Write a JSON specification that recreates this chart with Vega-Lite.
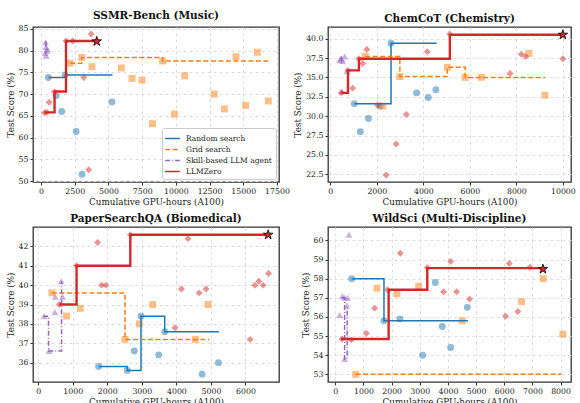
{
  "$schema": "https://vega.github.io/schema/vega-lite/v6.json",
  "padding": {"left": 5, "top": 10, "right": 2, "bottom": 0},
  "background": "white",
  "config": {
    "view": {"stroke": "#333", "strokeWidth": 1.3},
    "title": {"font": "DejaVu Serif", "fontSize": 10.5, "fontWeight": "bold", "offset": 3, "color": "#111"},
    "axis": {"labelFont": "DejaVu Serif", "labelFontSize": 7.8, "labelColor": "#222", "titleFont": "DejaVu Serif", "titleFontSize": 8.8, "titleFontWeight": "normal", "titleColor": "#222", "gridDash": [3, 3], "gridColor": "#dddddd", "domain": false, "tickColor": "#333", "tickSize": 3, "labelPadding": 2, "titlePadding": 3, "tickCount": 30, "labelOverlap": false}
  },
  "resolve": {
    "scale": {"color": "independent", "fill": "independent", "shape": "independent", "strokeDash": "independent"},
    "legend": {"color": "independent", "fill": "independent", "shape": "independent", "strokeDash": "independent"}
  },
  "datasets": {
    "pts": [
      {"p": "A", "m": "Random search", "x": 544, "y": 73.8},
      {"p": "A", "m": "Random search", "x": 1780, "y": 74.4},
      {"p": "A", "m": "Random search", "x": 1110, "y": 69.6},
      {"p": "A", "m": "Random search", "x": 1530, "y": 66.0},
      {"p": "A", "m": "Random search", "x": 2600, "y": 61.4},
      {"p": "A", "m": "Random search", "x": 3040, "y": 51.6},
      {"p": "A", "m": "Random search", "x": 5260, "y": 68.2},
      {"p": "A", "m": "Grid search", "x": 2150, "y": 77.1},
      {"p": "A", "m": "Grid search", "x": 3020, "y": 78.4},
      {"p": "A", "m": "Grid search", "x": 3780, "y": 76.3},
      {"p": "A", "m": "Grid search", "x": 5960, "y": 76.0},
      {"p": "A", "m": "Grid search", "x": 6750, "y": 73.6},
      {"p": "A", "m": "Grid search", "x": 7490, "y": 73.2},
      {"p": "A", "m": "Grid search", "x": 8260, "y": 63.2},
      {"p": "A", "m": "Grid search", "x": 9020, "y": 77.6},
      {"p": "A", "m": "Grid search", "x": 9890, "y": 65.4},
      {"p": "A", "m": "Grid search", "x": 10650, "y": 74.2},
      {"p": "A", "m": "Grid search", "x": 12850, "y": 70.0},
      {"p": "A", "m": "Grid search", "x": 13600, "y": 66.6},
      {"p": "A", "m": "Grid search", "x": 14460, "y": 78.6},
      {"p": "A", "m": "Grid search", "x": 15180, "y": 67.4},
      {"p": "A", "m": "Grid search", "x": 16860, "y": 68.4},
      {"p": "A", "m": "Grid search", "x": 16050, "y": 79.6},
      {"p": "A", "m": "Skill-based LLM agent", "x": 330, "y": 81.9},
      {"p": "A", "m": "Skill-based LLM agent", "x": 360, "y": 80.8},
      {"p": "A", "m": "Skill-based LLM agent", "x": 470, "y": 80.3},
      {"p": "A", "m": "Skill-based LLM agent", "x": 300, "y": 79.4},
      {"p": "A", "m": "Skill-based LLM agent", "x": 380, "y": 78.8},
      {"p": "A", "m": "Skill-based LLM agent", "x": 440, "y": 79.9},
      {"p": "A", "m": "LLMZero", "x": 250, "y": 65.7},
      {"p": "A", "m": "LLMZero", "x": 420, "y": 65.8},
      {"p": "A", "m": "LLMZero", "x": 595, "y": 68.1},
      {"p": "A", "m": "LLMZero", "x": 1000, "y": 70.5},
      {"p": "A", "m": "LLMZero", "x": 1850, "y": 82.2},
      {"p": "A", "m": "LLMZero", "x": 2350, "y": 82.2},
      {"p": "A", "m": "LLMZero", "x": 3710, "y": 83.8},
      {"p": "A", "m": "LLMZero", "x": 3165, "y": 73.8},
      {"p": "A", "m": "LLMZero", "x": 3535, "y": 52.6},

      {"p": "B", "m": "Random search", "x": 1030, "y": 31.6},
      {"p": "B", "m": "Random search", "x": 1290, "y": 28.0},
      {"p": "B", "m": "Random search", "x": 1640, "y": 29.7},
      {"p": "B", "m": "Random search", "x": 2140, "y": 31.3},
      {"p": "B", "m": "Random search", "x": 2610, "y": 39.4},
      {"p": "B", "m": "Random search", "x": 3710, "y": 33.0},
      {"p": "B", "m": "Random search", "x": 4210, "y": 32.4},
      {"p": "B", "m": "Random search", "x": 4540, "y": 33.4},
      {"p": "B", "m": "Grid search", "x": 1500, "y": 37.7},
      {"p": "B", "m": "Grid search", "x": 2260, "y": 31.3},
      {"p": "B", "m": "Grid search", "x": 2990, "y": 35.1},
      {"p": "B", "m": "Grid search", "x": 5030, "y": 36.3},
      {"p": "B", "m": "Grid search", "x": 5800, "y": 35.0},
      {"p": "B", "m": "Grid search", "x": 6500, "y": 35.0},
      {"p": "B", "m": "Grid search", "x": 8540, "y": 38.1},
      {"p": "B", "m": "Grid search", "x": 9230, "y": 32.7},
      {"p": "B", "m": "Skill-based LLM agent", "x": 457, "y": 37.4},
      {"p": "B", "m": "Skill-based LLM agent", "x": 614, "y": 37.7},
      {"p": "B", "m": "Skill-based LLM agent", "x": 520, "y": 37.1},
      {"p": "B", "m": "Skill-based LLM agent", "x": 714, "y": 35.8},
      {"p": "B", "m": "Skill-based LLM agent", "x": 500, "y": 33.2},
      {"p": "B", "m": "Skill-based LLM agent", "x": 400, "y": 37.2},
      {"p": "B", "m": "LLMZero", "x": 470, "y": 33.0},
      {"p": "B", "m": "LLMZero", "x": 760, "y": 35.9},
      {"p": "B", "m": "LLMZero", "x": 960, "y": 33.6},
      {"p": "B", "m": "LLMZero", "x": 1230, "y": 37.4},
      {"p": "B", "m": "LLMZero", "x": 1390, "y": 36.8},
      {"p": "B", "m": "LLMZero", "x": 1570, "y": 38.6},
      {"p": "B", "m": "LLMZero", "x": 2030, "y": 31.4},
      {"p": "B", "m": "LLMZero", "x": 2400, "y": 22.4},
      {"p": "B", "m": "LLMZero", "x": 2830, "y": 26.4},
      {"p": "B", "m": "LLMZero", "x": 3270, "y": 30.2},
      {"p": "B", "m": "LLMZero", "x": 4170, "y": 38.3},
      {"p": "B", "m": "LLMZero", "x": 5140, "y": 40.6},
      {"p": "B", "m": "LLMZero", "x": 7730, "y": 35.5},
      {"p": "B", "m": "LLMZero", "x": 8210, "y": 38.0},
      {"p": "B", "m": "LLMZero", "x": 8400, "y": 37.7},
      {"p": "B", "m": "LLMZero", "x": 10000, "y": 37.4},

      {"p": "C", "m": "Random search", "x": 1749, "y": 35.8},
      {"p": "C", "m": "Random search", "x": 2580, "y": 35.6},
      {"p": "C", "m": "Random search", "x": 2783, "y": 36.6},
      {"p": "C", "m": "Random search", "x": 2976, "y": 38.4},
      {"p": "C", "m": "Random search", "x": 3488, "y": 36.4},
      {"p": "C", "m": "Random search", "x": 3662, "y": 37.6},
      {"p": "C", "m": "Random search", "x": 4744, "y": 35.4},
      {"p": "C", "m": "Random search", "x": 5217, "y": 36.0},
      {"p": "C", "m": "Grid search", "x": 396, "y": 39.6},
      {"p": "C", "m": "Grid search", "x": 821, "y": 38.4},
      {"p": "C", "m": "Grid search", "x": 1217, "y": 38.8},
      {"p": "C", "m": "Grid search", "x": 2512, "y": 37.2},
      {"p": "C", "m": "Grid search", "x": 2928, "y": 38.0},
      {"p": "C", "m": "Grid search", "x": 3314, "y": 39.0},
      {"p": "C", "m": "Grid search", "x": 4551, "y": 37.2},
      {"p": "C", "m": "Grid search", "x": 4918, "y": 39.0},
      {"p": "C", "m": "Skill-based LLM agent", "x": 174, "y": 38.4},
      {"p": "C", "m": "Skill-based LLM agent", "x": 319, "y": 36.6},
      {"p": "C", "m": "Skill-based LLM agent", "x": 493, "y": 39.4},
      {"p": "C", "m": "Skill-based LLM agent", "x": 483, "y": 38.6},
      {"p": "C", "m": "Skill-based LLM agent", "x": 667, "y": 40.2},
      {"p": "C", "m": "Skill-based LLM agent", "x": 705, "y": 39.4},
      {"p": "C", "m": "LLMZero", "x": 609, "y": 39.0},
      {"p": "C", "m": "LLMZero", "x": 1111, "y": 41.0},
      {"p": "C", "m": "LLMZero", "x": 1720, "y": 42.2},
      {"p": "C", "m": "LLMZero", "x": 1836, "y": 40.0},
      {"p": "C", "m": "LLMZero", "x": 1960, "y": 40.0},
      {"p": "C", "m": "LLMZero", "x": 2667, "y": 42.6},
      {"p": "C", "m": "LLMZero", "x": 4338, "y": 42.4},
      {"p": "C", "m": "LLMZero", "x": 4145, "y": 39.8},
      {"p": "C", "m": "LLMZero", "x": 3961, "y": 37.8},
      {"p": "C", "m": "LLMZero", "x": 4657, "y": 39.6},
      {"p": "C", "m": "LLMZero", "x": 4860, "y": 39.8},
      {"p": "C", "m": "LLMZero", "x": 6135, "y": 37.2},
      {"p": "C", "m": "LLMZero", "x": 6270, "y": 40.0},
      {"p": "C", "m": "LLMZero", "x": 6386, "y": 40.2},
      {"p": "C", "m": "LLMZero", "x": 6512, "y": 40.0},
      {"p": "C", "m": "LLMZero", "x": 6667, "y": 40.6},

      {"p": "D", "m": "Random search", "x": 580, "y": 58.0},
      {"p": "D", "m": "Random search", "x": 1728, "y": 55.8},
      {"p": "D", "m": "Random search", "x": 2296, "y": 55.9},
      {"p": "D", "m": "Random search", "x": 3101, "y": 54.0},
      {"p": "D", "m": "Random search", "x": 3550, "y": 57.8},
      {"p": "D", "m": "Random search", "x": 3799, "y": 55.5},
      {"p": "D", "m": "Random search", "x": 4095, "y": 54.4},
      {"p": "D", "m": "Random search", "x": 4686, "y": 56.5},
      {"p": "D", "m": "Grid search", "x": 722, "y": 53.0},
      {"p": "D", "m": "Grid search", "x": 1479, "y": 57.5},
      {"p": "D", "m": "Grid search", "x": 2189, "y": 57.2},
      {"p": "D", "m": "Grid search", "x": 2959, "y": 57.6},
      {"p": "D", "m": "Grid search", "x": 4509, "y": 55.8},
      {"p": "D", "m": "Grid search", "x": 6615, "y": 56.8},
      {"p": "D", "m": "Grid search", "x": 7385, "y": 58.0},
      {"p": "D", "m": "Grid search", "x": 8083, "y": 55.1},
      {"p": "D", "m": "Skill-based LLM agent", "x": 485, "y": 60.3},
      {"p": "D", "m": "Skill-based LLM agent", "x": 154, "y": 56.1},
      {"p": "D", "m": "Skill-based LLM agent", "x": 249, "y": 57.1},
      {"p": "D", "m": "Skill-based LLM agent", "x": 331, "y": 57.0},
      {"p": "D", "m": "Skill-based LLM agent", "x": 438, "y": 57.0},
      {"p": "D", "m": "Skill-based LLM agent", "x": 414, "y": 56.6},
      {"p": "D", "m": "Skill-based LLM agent", "x": 331, "y": 53.8},
      {"p": "D", "m": "LLMZero", "x": 237, "y": 54.85},
      {"p": "D", "m": "LLMZero", "x": 568, "y": 54.8},
      {"p": "D", "m": "LLMZero", "x": 1100, "y": 55.15},
      {"p": "D", "m": "LLMZero", "x": 1396, "y": 56.46},
      {"p": "D", "m": "LLMZero", "x": 1858, "y": 57.42},
      {"p": "D", "m": "LLMZero", "x": 2308, "y": 59.33},
      {"p": "D", "m": "LLMZero", "x": 3266, "y": 58.57},
      {"p": "D", "m": "LLMZero", "x": 3846, "y": 57.32},
      {"p": "D", "m": "LLMZero", "x": 4095, "y": 58.9},
      {"p": "D", "m": "LLMZero", "x": 4308, "y": 57.32},
      {"p": "D", "m": "LLMZero", "x": 4769, "y": 56.94},
      {"p": "D", "m": "LLMZero", "x": 6047, "y": 56.04},
      {"p": "D", "m": "LLMZero", "x": 6178, "y": 58.79},
      {"p": "D", "m": "LLMZero", "x": 6485, "y": 56.28},
      {"p": "D", "m": "LLMZero", "x": 6911, "y": 58.6}
    ],
    "lines": [
      {"p": "A", "m": "Random search", "x": 544, "y": 73.8},
      {"p": "A", "m": "Random search", "x": 1800, "y": 74.4},
      {"p": "A", "m": "Random search", "x": 5300, "y": 74.4},
      {"p": "A", "m": "Grid search", "x": 2150, "y": 77.1},
      {"p": "A", "m": "Grid search", "x": 3020, "y": 78.4},
      {"p": "A", "m": "Grid search", "x": 9020, "y": 77.6},
      {"p": "A", "m": "Grid search", "x": 16850, "y": 77.6},
      {"p": "A", "m": "Skill-based LLM agent", "x": 330, "y": 82.0},
      {"p": "A", "m": "Skill-based LLM agent", "x": 360, "y": 79.6},
      {"p": "A", "m": "Skill-based LLM agent", "x": 400, "y": 79.6},
      {"p": "A", "m": "LLMZero", "x": 250, "y": 65.8},
      {"p": "A", "m": "LLMZero", "x": 1000, "y": 70.6},
      {"p": "A", "m": "LLMZero", "x": 1850, "y": 82.2},
      {"p": "A", "m": "LLMZero", "x": 4130, "y": 82.2},

      {"p": "B", "m": "Random search", "x": 1030, "y": 31.6},
      {"p": "B", "m": "Random search", "x": 2610, "y": 39.4},
      {"p": "B", "m": "Random search", "x": 4570, "y": 39.4},
      {"p": "B", "m": "Grid search", "x": 1500, "y": 37.7},
      {"p": "B", "m": "Grid search", "x": 2990, "y": 35.1},
      {"p": "B", "m": "Grid search", "x": 5030, "y": 36.3},
      {"p": "B", "m": "Grid search", "x": 5800, "y": 35.0},
      {"p": "B", "m": "Grid search", "x": 9230, "y": 35.0},
      {"p": "B", "m": "Skill-based LLM agent", "x": 430, "y": 37.6},
      {"p": "B", "m": "Skill-based LLM agent", "x": 480, "y": 37.1},
      {"p": "B", "m": "Skill-based LLM agent", "x": 620, "y": 37.1},
      {"p": "B", "m": "LLMZero", "x": 470, "y": 33.0},
      {"p": "B", "m": "LLMZero", "x": 760, "y": 35.9},
      {"p": "B", "m": "LLMZero", "x": 1230, "y": 37.4},
      {"p": "B", "m": "LLMZero", "x": 5140, "y": 40.5},
      {"p": "B", "m": "LLMZero", "x": 10000, "y": 40.5},

      {"p": "C", "m": "Random search", "x": 1749, "y": 35.8},
      {"p": "C", "m": "Random search", "x": 2580, "y": 35.6},
      {"p": "C", "m": "Random search", "x": 2976, "y": 38.4},
      {"p": "C", "m": "Random search", "x": 3662, "y": 37.6},
      {"p": "C", "m": "Random search", "x": 5230, "y": 37.6},
      {"p": "C", "m": "Grid search", "x": 396, "y": 39.6},
      {"p": "C", "m": "Grid search", "x": 2512, "y": 37.2},
      {"p": "C", "m": "Grid search", "x": 4950, "y": 37.2},
      {"p": "C", "m": "Skill-based LLM agent", "x": 145, "y": 38.4},
      {"p": "C", "m": "Skill-based LLM agent", "x": 300, "y": 36.6},
      {"p": "C", "m": "Skill-based LLM agent", "x": 676, "y": 40.2},
      {"p": "C", "m": "LLMZero", "x": 609, "y": 39.0},
      {"p": "C", "m": "LLMZero", "x": 1111, "y": 41.0},
      {"p": "C", "m": "LLMZero", "x": 2667, "y": 42.6},
      {"p": "C", "m": "LLMZero", "x": 6657, "y": 42.6},

      {"p": "D", "m": "Random search", "x": 580, "y": 58.0},
      {"p": "D", "m": "Random search", "x": 1728, "y": 55.8},
      {"p": "D", "m": "Random search", "x": 4710, "y": 55.8},
      {"p": "D", "m": "Grid search", "x": 722, "y": 53.0},
      {"p": "D", "m": "Grid search", "x": 8030, "y": 53.0},
      {"p": "D", "m": "Skill-based LLM agent", "x": 230, "y": 57.0},
      {"p": "D", "m": "Skill-based LLM agent", "x": 330, "y": 53.8},
      {"p": "D", "m": "Skill-based LLM agent", "x": 420, "y": 56.6},
      {"p": "D", "m": "LLMZero", "x": 200, "y": 54.85},
      {"p": "D", "m": "LLMZero", "x": 1893, "y": 57.42},
      {"p": "D", "m": "LLMZero", "x": 3266, "y": 58.55},
      {"p": "D", "m": "LLMZero", "x": 7373, "y": 58.55}
    ],
    "stars": [
      {"p": "A", "x": 4130, "y": 82.1},
      {"p": "B", "x": 10000, "y": 40.5},
      {"p": "C", "x": 6657, "y": 42.6},
      {"p": "D", "x": 7373, "y": 58.5}
    ]
  },
  "columns": 2,
  "bounds": "flush",
  "spacing": {"row": 45, "column": 49},
  "concat": [
    {
      "width": 246, "height": 155,
      "title": "SSMR-Bench (Music)",
      "layer": [
        {
          "data": {"name": "pts"},
          "transform": [{"filter": "datum.p === 'A'"}],
          "mark": {"type": "point", "filled": true, "opacity": 0.5, "size": 48, "strokeWidth": 0},
          "encoding": {
            "x": {"field": "x", "type": "quantitative", "title": "Cumulative GPU-hours (A100)", "scale": {"domain": [-600, 17650], "nice": false, "zero": false}, "axis": {"values": [0, 2500, 5000, 7500, 10000, 12500, 15000, 17500], "format": "d"}},
            "y": {"field": "y", "type": "quantitative", "title": "Test Score (%)", "scale": {"domain": [49.8, 85.4], "nice": false, "zero": false}, "axis": {"values": [50, 55, 60, 65, 70, 75, 80, 85], "format": "d"}},
            "fill": {"field": "m", "type": "nominal", "scale": {"domain": ["LLMZero", "Random search", "Grid search", "Skill-based LLM agent"], "range": ["#d62728", "#1f77b4", "#ff7f0e", "#9467bd"]}, "legend": null},
            "shape": {"field": "m", "type": "nominal", "scale": {"domain": ["LLMZero", "Random search", "Grid search", "Skill-based LLM agent"], "range": ["diamond", "circle", "square", "triangle-up"]}, "legend": null}
          }
        },
        {
          "data": {"name": "lines"},
          "transform": [{"filter": "datum.p === 'A'"}],
          "mark": {"type": "line", "interpolate": "step-after"},
          "encoding": {
            "x": {"field": "x", "type": "quantitative"},
            "y": {"field": "y", "type": "quantitative"},
            "color": {"field": "m", "type": "nominal", "scale": {"domain": ["Random search", "Grid search", "Skill-based LLM agent", "LLMZero"], "range": ["#1f77b4", "#ff7f0e", "#9467bd", "#d62728"]}, "legend": {"orient": "bottom-right", "title": null, "fillColor": "white", "strokeColor": "#cccccc", "padding": 4, "cornerRadius": 2, "offset": 3, "labelFont": "DejaVu Serif", "labelFontSize": 7.5, "labelColor": "#222", "symbolType": "M-1.4,0L1.4,0", "symbolSize": 110, "symbolStrokeWidth": 1.6, "rowPadding": 1, "labelOffset": 7}},
            "strokeDash": {"field": "m", "type": "nominal", "scale": {"domain": ["Random search", "Grid search", "Skill-based LLM agent", "LLMZero"], "range": [[1, 0], [5, 2.5], [5, 2, 1, 2], [1, 0]]}, "legend": {"orient": "bottom-right", "title": null, "fillColor": "white", "strokeColor": "#cccccc", "padding": 4, "cornerRadius": 2, "offset": 3, "labelFont": "DejaVu Serif", "labelFontSize": 7.5, "labelColor": "#222", "symbolType": "M-1.4,0L1.4,0", "symbolSize": 110, "symbolStrokeWidth": 1.6, "rowPadding": 1, "labelOffset": 7}},
            "strokeWidth": {"condition": {"test": "datum.m === 'LLMZero'", "value": 2.4}, "value": 1.5}
          }
        },
        {
          "data": {"name": "stars"},
          "transform": [{"filter": "datum.p === 'A'"}],
          "mark": {"type": "point", "filled": true, "fill": "#d62728", "stroke": "black", "strokeWidth": 0.8, "opacity": 1, "size": 100, "shape": "M0,-1L0.2245,-0.309L0.951,-0.309L0.363,0.118L0.588,0.809L0,0.382L-0.588,0.809L-0.363,0.118L-0.951,-0.309L-0.2245,-0.309Z"},
          "encoding": {"x": {"field": "x", "type": "quantitative"}, "y": {"field": "y", "type": "quantitative"}}
        }
      ]
    },
    {
      "width": 243, "height": 155,
      "title": "ChemCoT (Chemistry)",
      "layer": [
        {
          "data": {"name": "pts"},
          "transform": [{"filter": "datum.p === 'B'"}],
          "mark": {"type": "point", "filled": true, "opacity": 0.5, "size": 48, "strokeWidth": 0},
          "encoding": {
            "x": {"field": "x", "type": "quantitative", "title": "Cumulative GPU-hours (A100)", "scale": {"domain": [-100, 10350], "nice": false, "zero": false}, "axis": {"values": [0, 2000, 4000, 6000, 8000, 10000], "format": "d"}},
            "y": {"field": "y", "type": "quantitative", "title": "Test Score (%)", "scale": {"domain": [21.5, 41.5], "nice": false, "zero": false}, "axis": {"values": [22.5, 25, 27.5, 30, 32.5, 35, 37.5, 40], "format": ".1f"}},
            "fill": {"field": "m", "type": "nominal", "scale": {"domain": ["LLMZero", "Random search", "Grid search", "Skill-based LLM agent"], "range": ["#d62728", "#1f77b4", "#ff7f0e", "#9467bd"]}, "legend": null},
            "shape": {"field": "m", "type": "nominal", "scale": {"domain": ["LLMZero", "Random search", "Grid search", "Skill-based LLM agent"], "range": ["diamond", "circle", "square", "triangle-up"]}, "legend": null}
          }
        },
        {
          "data": {"name": "lines"},
          "transform": [{"filter": "datum.p === 'B'"}],
          "mark": {"type": "line", "interpolate": "step-after"},
          "encoding": {
            "x": {"field": "x", "type": "quantitative"},
            "y": {"field": "y", "type": "quantitative"},
            "color": {"field": "m", "type": "nominal", "scale": {"domain": ["Random search", "Grid search", "Skill-based LLM agent", "LLMZero"], "range": ["#1f77b4", "#ff7f0e", "#9467bd", "#d62728"]}, "legend": null},
            "strokeDash": {"field": "m", "type": "nominal", "scale": {"domain": ["Random search", "Grid search", "Skill-based LLM agent", "LLMZero"], "range": [[1, 0], [5, 2.5], [5, 2, 1, 2], [1, 0]]}, "legend": null},
            "strokeWidth": {"condition": {"test": "datum.m === 'LLMZero'", "value": 2.4}, "value": 1.5}
          }
        },
        {
          "data": {"name": "stars"},
          "transform": [{"filter": "datum.p === 'B'"}],
          "mark": {"type": "point", "filled": true, "fill": "#d62728", "stroke": "black", "strokeWidth": 0.8, "opacity": 1, "size": 100, "shape": "M0,-1L0.2245,-0.309L0.951,-0.309L0.363,0.118L0.588,0.809L0,0.382L-0.588,0.809L-0.363,0.118L-0.951,-0.309L-0.2245,-0.309Z"},
          "encoding": {"x": {"field": "x", "type": "quantitative"}, "y": {"field": "y", "type": "quantitative"}}
        }
      ]
    },
    {
      "width": 246, "height": 155,
      "title": "PaperSearchQA (Biomedical)",
      "layer": [
        {
          "data": {"name": "pts"},
          "transform": [{"filter": "datum.p === 'C'"}],
          "mark": {"type": "point", "filled": true, "opacity": 0.5, "size": 48, "strokeWidth": 0},
          "encoding": {
            "x": {"field": "x", "type": "quantitative", "title": "Cumulative GPU-hours (A100)", "scale": {"domain": [-150, 6970], "nice": false, "zero": false}, "axis": {"values": [0, 1000, 2000, 3000, 4000, 5000, 6000], "format": "d"}},
            "y": {"field": "y", "type": "quantitative", "title": "Test Score (%)", "scale": {"domain": [35.0, 43.0], "nice": false, "zero": false}, "axis": {"values": [36, 37, 38, 39, 40, 41, 42], "format": "d"}},
            "fill": {"field": "m", "type": "nominal", "scale": {"domain": ["LLMZero", "Random search", "Grid search", "Skill-based LLM agent"], "range": ["#d62728", "#1f77b4", "#ff7f0e", "#9467bd"]}, "legend": null},
            "shape": {"field": "m", "type": "nominal", "scale": {"domain": ["LLMZero", "Random search", "Grid search", "Skill-based LLM agent"], "range": ["diamond", "circle", "square", "triangle-up"]}, "legend": null}
          }
        },
        {
          "data": {"name": "lines"},
          "transform": [{"filter": "datum.p === 'C'"}],
          "mark": {"type": "line", "interpolate": "step-after"},
          "encoding": {
            "x": {"field": "x", "type": "quantitative"},
            "y": {"field": "y", "type": "quantitative"},
            "color": {"field": "m", "type": "nominal", "scale": {"domain": ["Random search", "Grid search", "Skill-based LLM agent", "LLMZero"], "range": ["#1f77b4", "#ff7f0e", "#9467bd", "#d62728"]}, "legend": null},
            "strokeDash": {"field": "m", "type": "nominal", "scale": {"domain": ["Random search", "Grid search", "Skill-based LLM agent", "LLMZero"], "range": [[1, 0], [5, 2.5], [5, 2, 1, 2], [1, 0]]}, "legend": null},
            "strokeWidth": {"condition": {"test": "datum.m === 'LLMZero'", "value": 2.4}, "value": 1.5}
          }
        },
        {
          "data": {"name": "stars"},
          "transform": [{"filter": "datum.p === 'C'"}],
          "mark": {"type": "point", "filled": true, "fill": "#d62728", "stroke": "black", "strokeWidth": 0.8, "opacity": 1, "size": 100, "shape": "M0,-1L0.2245,-0.309L0.951,-0.309L0.363,0.118L0.588,0.809L0,0.382L-0.588,0.809L-0.363,0.118L-0.951,-0.309L-0.2245,-0.309Z"},
          "encoding": {"x": {"field": "x", "type": "quantitative"}, "y": {"field": "y", "type": "quantitative"}}
        }
      ]
    },
    {
      "width": 243, "height": 155,
      "title": "WildSci (Multi-Discipline)",
      "layer": [
        {
          "data": {"name": "pts"},
          "transform": [{"filter": "datum.p === 'D'"}],
          "mark": {"type": "point", "filled": true, "opacity": 0.5, "size": 48, "strokeWidth": 0},
          "encoding": {
            "x": {"field": "x", "type": "quantitative", "title": "Cumulative GPU-hours (A100)", "scale": {"domain": [-260, 8370], "nice": false, "zero": false}, "axis": {"values": [0, 1000, 2000, 3000, 4000, 5000, 6000, 7000, 8000], "format": "d"}},
            "y": {"field": "y", "type": "quantitative", "title": "Test Score (%)", "scale": {"domain": [52.6, 60.7], "nice": false, "zero": false}, "axis": {"values": [53, 54, 55, 56, 57, 58, 59, 60], "format": "d"}},
            "fill": {"field": "m", "type": "nominal", "scale": {"domain": ["LLMZero", "Random search", "Grid search", "Skill-based LLM agent"], "range": ["#d62728", "#1f77b4", "#ff7f0e", "#9467bd"]}, "legend": null},
            "shape": {"field": "m", "type": "nominal", "scale": {"domain": ["LLMZero", "Random search", "Grid search", "Skill-based LLM agent"], "range": ["diamond", "circle", "square", "triangle-up"]}, "legend": null}
          }
        },
        {
          "data": {"name": "lines"},
          "transform": [{"filter": "datum.p === 'D'"}],
          "mark": {"type": "line", "interpolate": "step-after"},
          "encoding": {
            "x": {"field": "x", "type": "quantitative"},
            "y": {"field": "y", "type": "quantitative"},
            "color": {"field": "m", "type": "nominal", "scale": {"domain": ["Random search", "Grid search", "Skill-based LLM agent", "LLMZero"], "range": ["#1f77b4", "#ff7f0e", "#9467bd", "#d62728"]}, "legend": null},
            "strokeDash": {"field": "m", "type": "nominal", "scale": {"domain": ["Random search", "Grid search", "Skill-based LLM agent", "LLMZero"], "range": [[1, 0], [5, 2.5], [5, 2, 1, 2], [1, 0]]}, "legend": null},
            "strokeWidth": {"condition": {"test": "datum.m === 'LLMZero'", "value": 2.4}, "value": 1.5}
          }
        },
        {
          "data": {"name": "stars"},
          "transform": [{"filter": "datum.p === 'D'"}],
          "mark": {"type": "point", "filled": true, "fill": "#d62728", "stroke": "black", "strokeWidth": 0.8, "opacity": 1, "size": 100, "shape": "M0,-1L0.2245,-0.309L0.951,-0.309L0.363,0.118L0.588,0.809L0,0.382L-0.588,0.809L-0.363,0.118L-0.951,-0.309L-0.2245,-0.309Z"},
          "encoding": {"x": {"field": "x", "type": "quantitative"}, "y": {"field": "y", "type": "quantitative"}}
        }
      ]
    }
  ]
}
